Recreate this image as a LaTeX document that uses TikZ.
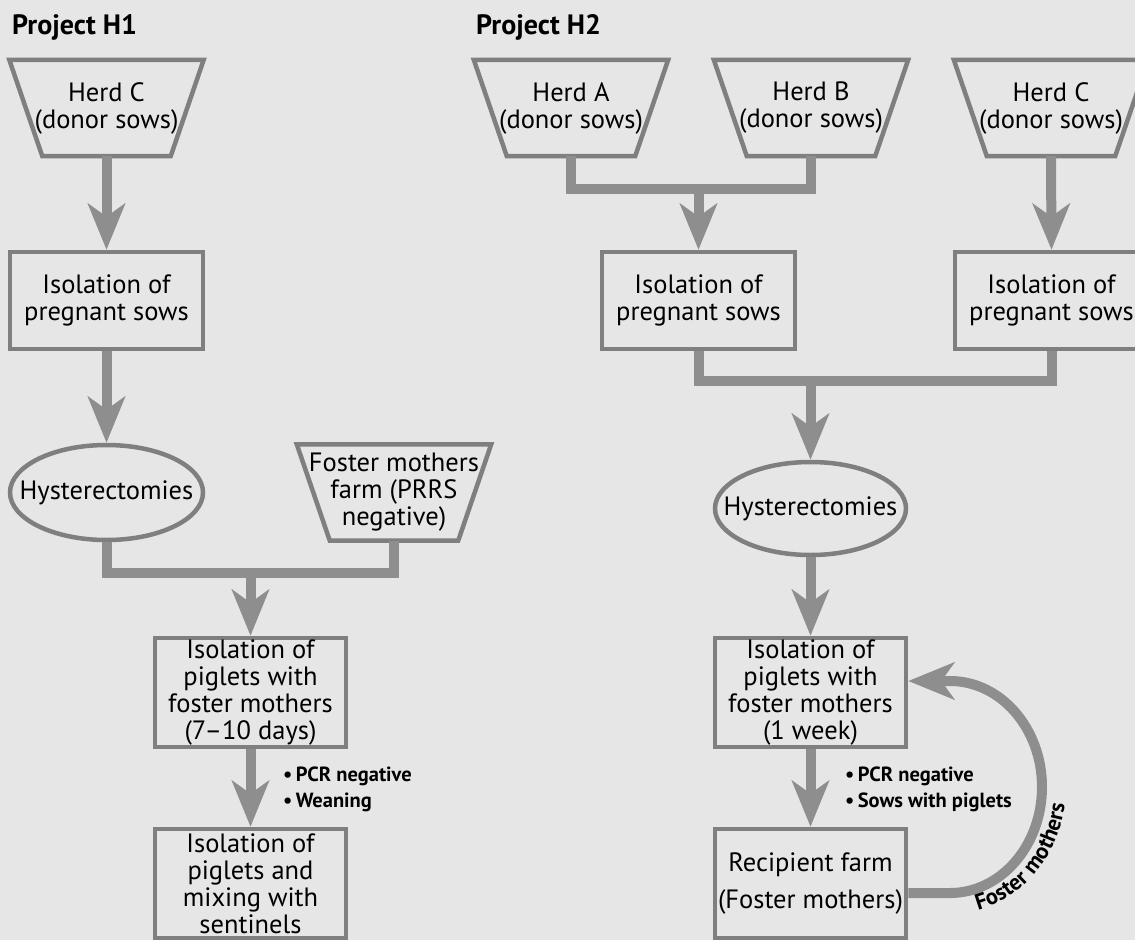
\documentclass[tikz,border=0pt]{standalone}
\usepackage{fontspec}
\setmainfont{PT Sans}
\usetikzlibrary{arrows.meta,shapes.geometric,decorations.text}
\definecolor{bgcol}{HTML}{E6E6E6}
\definecolor{bordercol}{HTML}{7F7F7F}
\definecolor{conncol}{HTML}{8E8E8E}
\begin{document}
\begin{tikzpicture}[x=1pt,y=-1pt,
  txt/.style={font=\fontsize{26.5}{27}\selectfont, align=center, text=black},
  boxnode/.style={txt, draw=bordercol, line width=4.5pt, rectangle, inner sep=0pt, minimum width=193pt, minimum height=97pt},
  tallbox/.style={boxnode, minimum width=191pt, minimum height=109pt},
  ellnode/.style={txt, draw=bordercol, line width=4.5pt, ellipse, inner sep=0pt},
  trapnode/.style={txt, rectangle, inner sep=0pt, minimum width=194pt, minimum height=96pt},
  trapline/.style={draw=bordercol, line width=4.5pt, line join=miter},
  conn/.style={draw=conncol, line width=10pt, line join=miter},
  arr/.style={conn, -{Stealth[length=46pt,width=37pt,inset=13pt]}},
  lbl/.style={font=\bfseries\fontsize{20.5}{26}\selectfont, align=left, anchor=north west, inner sep=0pt},
  title/.style={font=\bfseries\fontsize{28}{30}\selectfont, anchor=base west, inner sep=0pt}]
\fill[bgcol] (0,0) rectangle (1135,940);
\useasboundingbox (0,0) rectangle (1135,940);

% titles
\node[title] (t1) at (12,34) {Project H1};
\node[title] (t2) at (476,34) {Project H2};

% trapezium nodes
\node[trapnode] (hc1) at (106.5,108) {Herd C\\(donor sows)};
\node[trapnode] (ha) at (571,108) {Herd A\\(donor sows)};
\node[trapnode] (hb) at (811,108) {Herd B\\(donor sows)};
\node[trapnode] (hc2) at (1051,108) {Herd C\\(donor sows)};
\node[trapnode] (fm) at (394,492.5) {Foster mothers\\farm (PRRS\\negative)};
\foreach \n in {hc1,ha,hb,hc2,fm}
  \draw[trapline] (\n.north west) -- (\n.north east) -- ([xshift=-33pt]\n.south east) -- ([xshift=33pt]\n.south west) -- cycle;

% boxes
\node[boxnode] (iso1) at (106.5,300.5) {Isolation of\\pregnant sows};
\node[boxnode] (iso2) at (698.5,300.5) {Isolation of\\pregnant sows};
\node[boxnode] (iso3) at (1051.5,300.5) {Isolation of\\pregnant sows};
\node[ellnode, minimum width=193pt, minimum height=95pt] (hy1) at (106.5,492.5) {\makebox[0pt]{Hysterectomies}};
\node[ellnode, minimum width=191pt, minimum height=93pt] (hy2) at (810.5,508.5) {\makebox[0pt]{Hysterectomies}};
\node[tallbox] (pig1) at (250.5,692.5) {Isolation of\\piglets with\\foster mothers\\(7--10 days)};
\node[tallbox] (pig2) at (810.5,692.5) {Isolation of\\piglets with\\foster mothers\\(1 week)};
\node[tallbox] (sen) at (250.5,883.5) {Isolation of\\piglets and\\mixing with\\sentinels};
\node[tallbox] (rec) at (810.5,883.5) {Recipient farm\\[10pt](Foster mothers)};

% H1 connectors
\draw[arr] (hc1.south) -- (iso1.north);
\draw[arr] (iso1.south) -- (hy1.north);
\coordinate (j1) at (250.5,573);
\draw[conn] (hy1.south) |- (j1) -| (fm.south);
\draw[arr] (j1) -- (pig1.north);
\draw[arr] (pig1.south) -- (sen.north);
\node[lbl] (l1) at (283,767) {•\,PCR negative\\•\,Weaning};

% H2 connectors
\coordinate (j2) at (698.5,188.5);
\draw[conn] (ha.south) |- (j2) -| (hb.south);
\draw[arr] (j2) -- (iso2.north);
\draw[arr] (hc2.south) -- (iso3.north);
\coordinate (j3) at (810.5,381);
\draw[conn] (iso2.south) |- (j3) -| (iso3.south);
\draw[arr] (j3) -- (hy2.north);
\draw[arr] (hy2.south) -- (pig2.north);
\draw[arr] (pig2.south) -- (rec.north);
\node[lbl] (l2) at (845,767) {•\,PCR negative\\•\,Sows with piglets};

% feedback arrow
\coordinate (fb1) at (950,893);
\draw[arr] (rec.east |- fb1) -- (fb1) arc[start angle=90, end angle=-90, x radius=92, y radius=106] -- (pig2.east |- 0,681);
\path[decorate, decoration={text along path, text={|\bfseries\fontsize{22.5}{24}\selectfont|Foster mothers}, text align=left}]
  (950,787) ++(76:116 and 127) arc[start angle=76, end angle=-25, x radius=116, y radius=127];
\end{tikzpicture}
\end{document}
